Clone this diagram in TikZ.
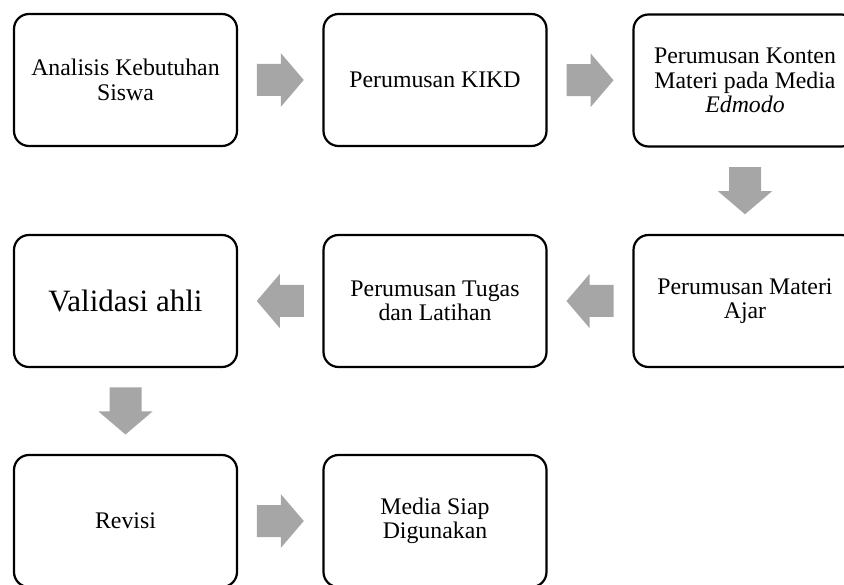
\documentclass[tikz,border=0pt]{standalone}
\usepackage{fontspec}
\setmainfont{Liberation Serif}
\usetikzlibrary{calc}
\definecolor{arrowgray}{HTML}{A6A6A6}
\tikzset{
  stepbox/.style={draw=black, line width=2.2pt, rounded corners=15pt,
    minimum width=223pt, minimum height=132pt, align=center, inner sep=4pt,
    font=\fontsize{23.8}{24.5}\selectfont},
  blockarrow/.pic={
    \fill[arrowgray] (-23.5pt,16pt) -- (0.5pt,16pt) -- (0.5pt,27pt) -- (23.5pt,0pt)
      -- (0.5pt,-27pt) -- (0.5pt,-16pt) -- (-23.5pt,-16pt) -- cycle;
  }
}
\begin{document}
\begin{tikzpicture}[x=1pt,y=-1pt]
\useasboundingbox (0,0) rectangle (844,585);
\clip (0,0) rectangle (844,585);
\node[stepbox] (b1) at (125.5,80) {Analisis Kebutuhan\\Siswa};
\node[stepbox] (b2) at (435,80) {Perumusan KIKD};
\node[stepbox] (b3) at (745,80.5) {Perumusan Konten\\Materi pada Media\\\textit{Edmodo}};
\node[stepbox] (b4) at (745,301) {Perumusan Materi\\Ajar};
\node[stepbox] (b5) at (435,301) {Perumusan Tugas\\dan Latihan};
\node[stepbox, font=\fontsize{31}{34}\selectfont] (b6) at (125.5,301) {Validasi ahli};
\node[stepbox] (b7) at (125.5,521) {Revisi};
\node[stepbox] (b8) at (435,521) {Media Siap\\Digunakan};
\pic at ($(b1.east)!0.5!(b2.west)$) {blockarrow};
\pic at ($(b2.east)!0.5!(b3.west)$) {blockarrow};
\pic[rotate=-90] at ($(b3.south)!0.5!(b4.north)$) {blockarrow};
\pic[rotate=180] at ($(b4.west)!0.5!(b5.east)$) {blockarrow};
\pic[rotate=180] at ($(b5.west)!0.5!(b6.east)$) {blockarrow};
\pic[rotate=-90] at ($(b6.south)!0.5!(b7.north)$) {blockarrow};
\pic at ($(b7.east)!0.5!(b8.west)$) {blockarrow};
\end{tikzpicture}
\end{document}
